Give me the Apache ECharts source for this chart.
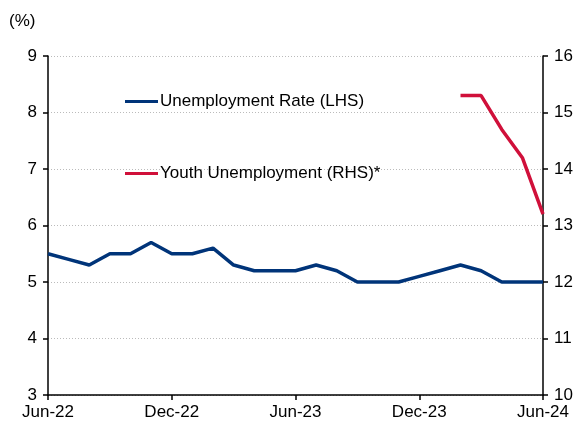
<!DOCTYPE html>
<html>
<head>
<meta charset="utf-8">
<script src="https://cdn.jsdelivr.net/npm/echarts@6/dist/echarts.min.js"></script>
<style>
  html, body { margin: 0; padding: 0; background: #fff; }
  #chart { width: 585px; height: 425px; }
</style>
</head>
<body>
<div id="chart"></div>
<script>
// mois, de Jun-22 a Jun-24
var months = ['Jun-22','Jul-22','Aug-22','Sep-22','Oct-22','Nov-22','Dec-22',
  'Jan-23','Feb-23','Mar-23','Apr-23','May-23','Jun-23','Jul-23','Aug-23','Sep-23',
  'Oct-23','Nov-23','Dec-23','Jan-24','Feb-24','Mar-24','Apr-24','May-24','Jun-24'];

var unemployment = [5.5, 5.4, 5.3, 5.5, 5.5, 5.7, 5.5, 5.5, 5.6, 5.3, 5.2, 5.2, 5.2,
  5.3, 5.2, 5.0, 5.0, 5.0, 5.1, 5.2, 5.3, 5.2, 5.0, 5.0, 5.0];

var youth = [null, null, null, null, null, null, null, null, null, null, null, null, null,
  null, null, null, null, null, null, null, 15.3, 15.3, 14.7, 14.2, 13.2];

var leftTicks = [3, 9, 1];
var rightTicks = [10, 16, 1];

var fontFamily = 'Liberation Sans, Arial, sans-serif';
var fontSize = 17;
var navy = '#003479';
var red = '#d0103a';

var chart = echarts.init(document.getElementById('chart'), null, {renderer: 'canvas'});

var legendCommon = {
  orient: 'vertical',
  icon: 'rect',
  itemWidth: 33,
  itemHeight: 3,
  itemGap: 4,
  textStyle: { fontFamily: fontFamily, fontSize: fontSize, color: '#000', padding: [0, 0, 0, -3] }
};

var option = {
  animation: false,
  grid: { left: 48, right: 42, top: 56, bottom: 30 },
  graphic: [{
    type: 'text', left: 9, top: 13,
    style: { text: '(%)', font: fontSize + 'px ' + fontFamily, fill: '#000' }
  }],
  legend: [
    Object.assign({}, legendCommon, { left: 120, top: 88, data: ['Unemployment Rate (LHS)'] }),
    Object.assign({}, legendCommon, { left: 120, top: 160, data: ['Youth Unemployment (RHS)*'] })
  ],
  xAxis: {
    type: 'category',
    data: months,
    boundaryGap: false,
    axisLine: { lineStyle: { color: '#000', width: 1.5 } },
    axisTick: { interval: 5, length: 5, lineStyle: { color: '#000', width: 1.5 } },
    axisLabel: { interval: 5, color: '#000', fontFamily: fontFamily, fontSize: fontSize, margin: 9 },
    splitLine: { show: false }
  },
  yAxis: [{
    type: 'value',
    min: leftTicks[0], max: leftTicks[1], interval: leftTicks[2],
    axisLine: { show: true, lineStyle: { color: '#000', width: 1.5 } },
    axisTick: { show: true, length: 5, lineStyle: { color: '#000', width: 1.5 } },
    axisLabel: { color: '#000', fontFamily: fontFamily, fontSize: fontSize, margin: 11 },
    splitLine: { show: true, lineStyle: { color: '#bbb', type: [1, 2], width: 1 } }
  }, {
    type: 'value',
    position: 'right',
    min: rightTicks[0], max: rightTicks[1], interval: rightTicks[2],
    axisLine: { show: true, lineStyle: { color: '#000', width: 1.5 } },
    axisTick: { show: true, length: 5, lineStyle: { color: '#000', width: 1.5 } },
    axisLabel: { color: '#000', fontFamily: fontFamily, fontSize: fontSize, margin: 11 },
    splitLine: { show: false }
  }],
  series: [{
    name: 'Unemployment Rate (LHS)',
    type: 'line',
    data: unemployment,
    yAxisIndex: 0,
    showSymbol: false,
    symbol: 'none',
    color: navy,
    lineStyle: { color: navy, width: 3.5 }
  }, {
    name: 'Youth Unemployment (RHS)*',
    type: 'line',
    data: youth,
    yAxisIndex: 1,
    showSymbol: false,
    symbol: 'none',
    color: red,
    lineStyle: { color: red, width: 3.5 }
  }]
};

chart.setOption(option);
</script>
</body>
</html>
